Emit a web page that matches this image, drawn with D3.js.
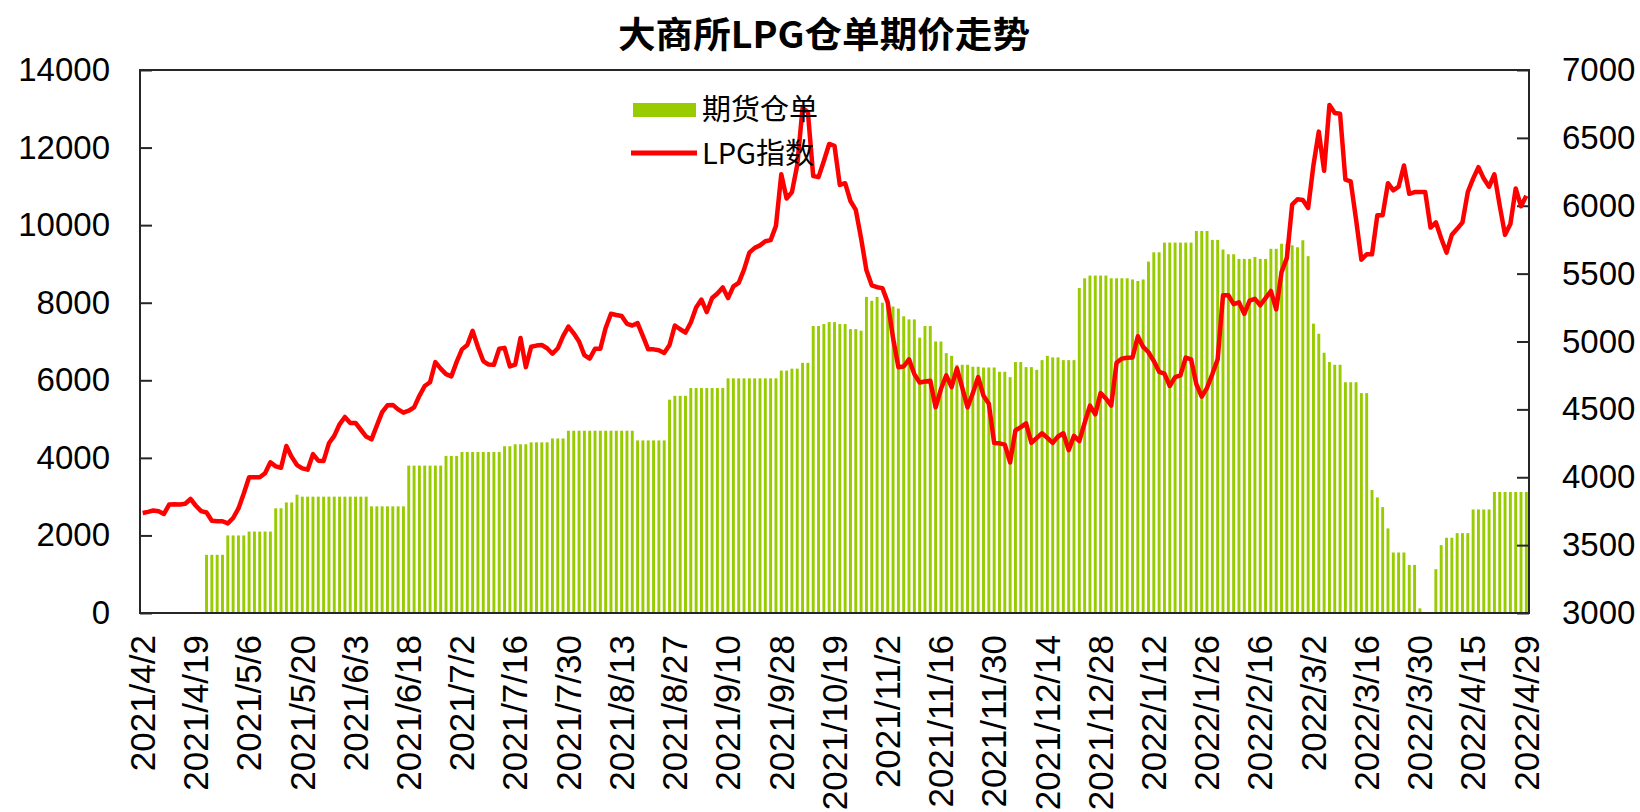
<!DOCTYPE html>
<meta charset="utf-8">
<style>
body { margin: 0; background: #fff; }
.axis text { font-family: "Liberation Sans", Arial, sans-serif; fill: #000; }
.axis path { display: none; }
.axis line { stroke: #262626; stroke-width: 2; }
</style>
<body>
<script src="https://cdn.jsdelivr.net/npm/d3@7"></script>
<script>

// trading calendar (DCE): weekdays minus exchange holidays
var startDate = "2021-04-02", endDate = "2022-04-29";
var holidays = ["2021-04-05", "2021-05-03", "2021-05-04", "2021-05-05", "2021-06-14",
  "2021-09-20", "2021-09-21", "2021-10-01", "2021-10-04", "2021-10-05", "2021-10-06",
  "2021-10-07", "2022-01-03", "2022-01-31", "2022-02-01", "2022-02-02", "2022-02-03",
  "2022-02-04", "2022-04-04", "2022-04-05"];

var tickLabels = ["2021/4/2", "2021/4/19", "2021/5/6", "2021/5/20", "2021/6/3", "2021/6/18",
  "2021/7/2", "2021/7/16", "2021/7/30", "2021/8/13", "2021/8/27", "2021/9/10", "2021/9/28",
  "2021/10/19", "2021/11/2", "2021/11/16", "2021/11/30", "2021/12/14", "2021/12/28",
  "2022/1/12", "2022/1/26", "2022/2/16", "2022/3/2", "2022/3/16", "2022/3/30",
  "2022/4/15", "2022/4/29"];

// 期货仓单 (left axis)
var receipts = [
  0, 0, 0, 0, 0, 0, 0, 0, 0, 0,
  0, 0, 1500, 1500, 1500, 1500, 2000, 2000, 2000, 2000,
  2100, 2100, 2100, 2100, 2100, 2700, 2700, 2850, 2850, 3050,
  3000, 3000, 3000, 3000, 3000, 3000, 3000, 3000, 3000, 3000,
  3000, 3000, 3000, 2750, 2750, 2750, 2750, 2750, 2750, 2750,
  3800, 3800, 3800, 3800, 3800, 3800, 3800, 4050, 4050, 4050,
  4150, 4150, 4150, 4150, 4150, 4150, 4150, 4150, 4300, 4300,
  4350, 4350, 4350, 4400, 4400, 4400, 4400, 4500, 4500, 4500,
  4700, 4700, 4700, 4700, 4700, 4700, 4700, 4700, 4700, 4700,
  4700, 4700, 4700, 4450, 4450, 4450, 4450, 4450, 4450, 5500,
  5600, 5600, 5600, 5800, 5800, 5800, 5800, 5800, 5800, 5800,
  6050, 6050, 6050, 6050, 6050, 6050, 6050, 6050, 6050, 6050,
  6250, 6250, 6300, 6300, 6450, 6450, 7400, 7400, 7450, 7500,
  7500, 7450, 7450, 7320, 7320, 7280, 8150, 8050, 8150, 8000,
  8000, 7900, 7850, 7650, 7570, 7570, 7100, 7400, 7400, 7000,
  7000, 6700, 6630, 6400, 6400, 6400, 6350, 6350, 6330, 6330,
  6330, 6220, 6220, 6080, 6470, 6470, 6340, 6340, 6270, 6520,
  6630, 6590, 6590, 6520, 6520, 6520, 8380, 8630, 8700, 8700,
  8700, 8700, 8630, 8630, 8630, 8630, 8600, 8560, 8600, 9060,
  9300, 9300, 9550, 9550, 9550, 9550, 9550, 9550, 9850, 9850,
  9850, 9620, 9620, 9370, 9250, 9250, 9130, 9130, 9130, 9180,
  9130, 9130, 9390, 9390, 9520, 9520, 9480, 9430, 9610, 9200,
  7460, 7200, 6710, 6470, 6400, 6400, 5950, 5950, 5950, 5670,
  5670, 3170, 2980, 2730, 2180, 1560, 1560, 1560, 1240, 1240,
  120, 0, 0, 1130, 1750, 1940, 1940, 2060, 2060, 2060,
  2670, 2670, 2670, 2670, 3120, 3120, 3120, 3120, 3120, 3120,
  3120
];

// LPG指数 (right axis)
var lpgIndex = [
  3737, 3745, 3755, 3750, 3730, 3800, 3802, 3800, 3805, 3840,
  3790, 3750, 3740, 3680, 3676, 3676, 3660, 3700, 3770, 3880,
  4000, 4000, 4000, 4030, 4110, 4080, 4070, 4230, 4150, 4090,
  4065, 4056, 4170, 4122, 4120, 4250, 4305, 4390, 4444, 4400,
  4400, 4350, 4300, 4279, 4380, 4480, 4530, 4533, 4500, 4476,
  4490, 4515, 4600, 4672, 4700, 4848, 4800, 4760, 4743, 4850,
  4942, 4974, 5078, 4960, 4856, 4830, 4829, 4947, 4953, 4816,
  4829, 5026, 4811, 4961, 4970, 4974, 4950, 4910, 4950, 5040,
  5110, 5060, 5000, 4900, 4874, 4947, 4947, 5100, 5204, 5195,
  5188, 5130, 5118, 5136, 5040, 4942, 4942, 4935, 4916, 4974,
  5118, 5090, 5066, 5140, 5250, 5309, 5217, 5320, 5354, 5398,
  5320, 5406, 5432, 5530, 5655, 5690, 5708, 5739, 5747, 5852,
  6232, 6053, 6100, 6300, 6720, 6690, 6219, 6211, 6330, 6455,
  6441, 6153, 6166, 6035, 5970, 5760, 5524, 5414, 5400, 5393,
  5288, 5026, 4811, 4816, 4869, 4760, 4698, 4705, 4711, 4515,
  4650, 4751, 4664, 4803, 4660, 4515, 4620, 4738, 4600, 4541,
  4253, 4250, 4240, 4109, 4345, 4370, 4397, 4253, 4290, 4324,
  4290, 4253, 4300, 4324, 4200, 4305, 4266, 4400, 4528, 4463,
  4620, 4580, 4528, 4843, 4874, 4880, 4882, 5039, 4960, 4921,
  4856, 4777, 4764, 4672, 4738, 4751, 4882, 4869, 4685, 4594,
  4659, 4760, 4869, 5341, 5341, 5275, 5288, 5204, 5301, 5314,
  5267, 5320, 5372, 5236, 5511, 5616, 6009, 6048, 6043, 5983,
  6300, 6546, 6258, 6743, 6683, 6677, 6192, 6179, 5900, 5603,
  5642, 5642, 5930, 5930, 6166, 6114, 6140, 6297, 6088, 6101,
  6101, 6101, 5839, 5878, 5760, 5655, 5786, 5830, 5878, 6101,
  6200, 6284, 6200, 6140, 6232, 6000, 5786, 5865, 6127, 5996,
  6074
];

var margin = {top: 70, right: 111, bottom: 199, left: 140},
    width = 1640 - margin.left - margin.right,
    height = 812 - margin.top - margin.bottom;

var parseDay = d3.timeParse("%Y-%m-%d"),
    isoDay = d3.timeFormat("%Y-%m-%d"),
    fmt = d3.timeFormat("%Y/%-m/%-d");
var hol = new Set(holidays);
var dates = d3.timeDay.range(parseDay(startDate), d3.timeDay.offset(parseDay(endDate), 1))
    .filter(function(d) { return d.getDay() % 6 !== 0 && !hol.has(isoDay(d)); })
    .map(fmt);

var x = d3.scaleBand()
    .domain(dates)
    .range([0, width])
    .paddingInner(0.45)
    .paddingOuter(0.225);

var yL = d3.scaleLinear().domain([0, 14000]).range([height, 0]);
var yR = d3.scaleLinear().domain([3000, 7000]).range([height, 0]);

var svg = d3.select("body").append("svg")
    .attr("width", 1640)
    .attr("height", 812);

var g = svg.append("g")
    .attr("transform", "translate(" + margin.left + "," + margin.top + ")");

// title
svg.append("text")
    .attr("x", 824)
    .attr("y", 48)
    .attr("text-anchor", "middle")
    .attr("textLength", 412)
    .attr("lengthAdjust", "spacingAndGlyphs")
    .style("font-family", "'Noto Sans CJK SC', sans-serif")
    .style("font-size", "36px")
    .style("font-weight", "bold")
    .text("大商所LPG仓单期价走势");

// bars
g.selectAll(".bar")
    .data(receipts)
  .enter().append("rect")
    .attr("class", "bar")
    .attr("x", function(d, i) { return x(dates[i]); })
    .attr("width", x.bandwidth())
    .attr("y", function(d) { return yL(d); })
    .attr("height", function(d) { return height - yL(d); })
    .attr("fill", "#99cc00");

// left axis
g.append("g")
    .attr("class", "axis")
    .call(d3.axisLeft(yL)
        .tickValues(d3.range(0, 14001, 2000))
        .tickFormat(d3.format("d"))
        .tickSizeInner(-12)
        .tickSizeOuter(0)
        .tickPadding(30))
  .selectAll("text")
    .style("font-size", "33px");

// right axis
g.append("g")
    .attr("class", "axis")
    .attr("transform", "translate(" + width + ",0)")
    .call(d3.axisRight(yR)
        .tickValues(d3.range(3000, 7001, 500))
        .tickFormat(d3.format("d"))
        .tickSizeInner(-12)
        .tickSizeOuter(0)
        .tickPadding(33))
  .selectAll("text")
    .style("font-size", "33px");

// bottom axis
g.append("g")
    .attr("class", "axis")
    .attr("transform", "translate(0," + height + ")")
    .call(d3.axisBottom(x)
        .tickValues(dates.filter(function(d) { return tickLabels.indexOf(d) >= 0; }))
        .tickSize(0))
  .selectAll("text")
    .attr("transform", "rotate(-90)")
    .attr("x", -22)
    .attr("y", 0)
    .attr("dy", "0.35em")
    .style("text-anchor", "end")
    .style("font-size", "35px");

// frame
g.append("rect")
    .attr("width", width)
    .attr("height", height)
    .attr("fill", "none")
    .attr("stroke", "#262626")
    .attr("stroke-width", 2);

// legend
var legend = svg.append("g")
    .style("font-family", "'Noto Sans CJK SC', sans-serif")
    .style("font-size", "29px");

legend.append("rect")
    .attr("x", 633).attr("y", 103)
    .attr("width", 63).attr("height", 14)
    .attr("fill", "#99cc00");
legend.append("text")
    .attr("x", 702).attr("y", 110).attr("dy", "0.35em")
    .text("期货仓单");

legend.append("line")
    .attr("x1", 631).attr("x2", 697)
    .attr("y1", 153).attr("y2", 153)
    .attr("stroke", "#ff0000")
    .attr("stroke-width", 5);
legend.append("text")
    .attr("x", 702).attr("y", 154).attr("dy", "0.35em")
    .text("LPG指数");

// index line
var line = d3.line()
    .x(function(d, i) { return x(dates[i]) + x.bandwidth() / 2; })
    .y(function(d) { return yR(d); });

g.append("path")
    .datum(lpgIndex)
    .attr("fill", "none")
    .attr("stroke", "#ff0000")
    .attr("stroke-width", 4.5)
    .attr("stroke-linejoin", "round")
    .attr("d", line);

</script>
</body>
